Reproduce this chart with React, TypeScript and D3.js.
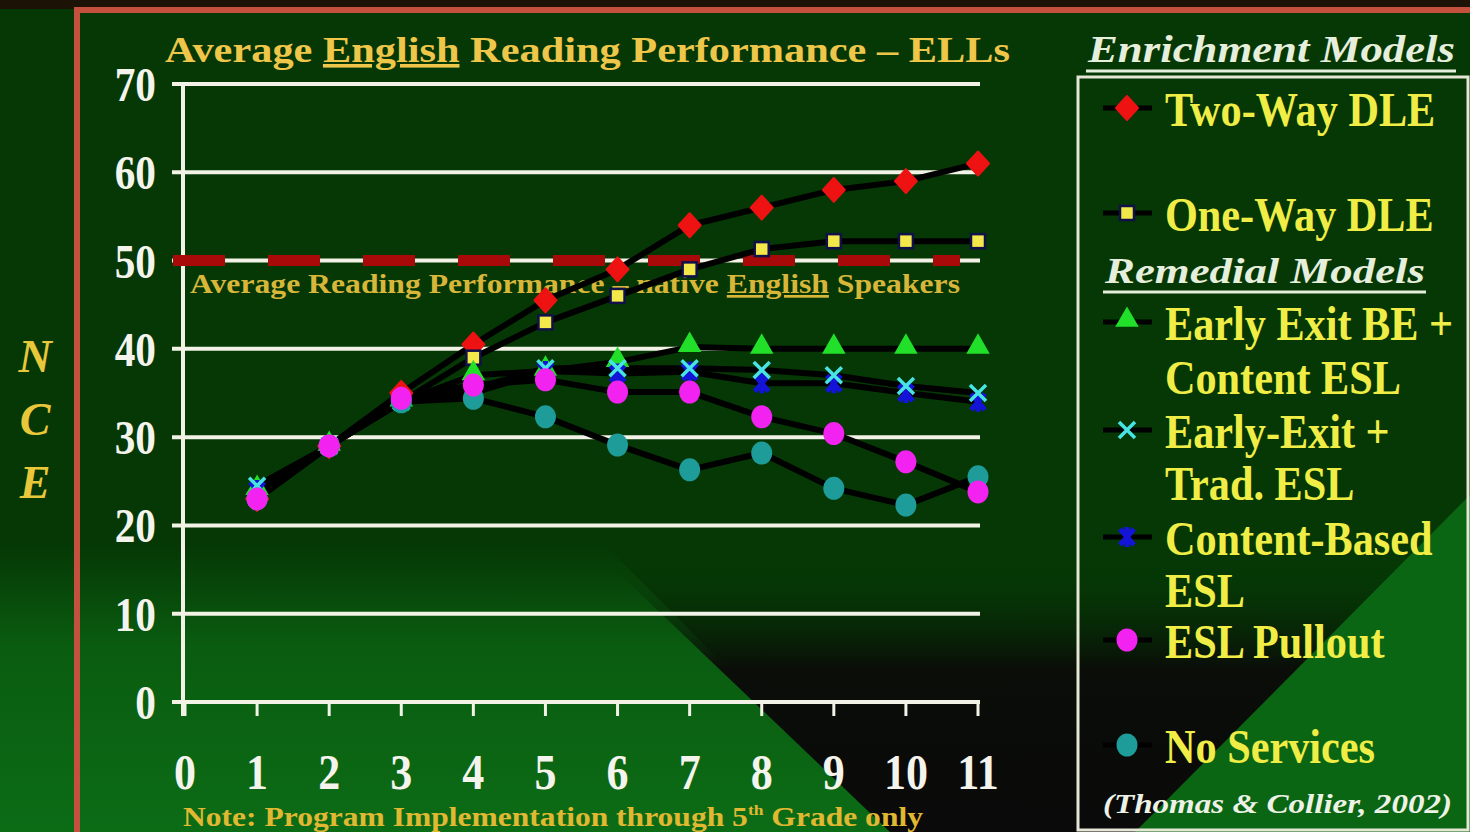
import * as d3 from "d3";

const grades = [1, 2, 3, 4, 5, 6, 7, 8, 9, 10, 11];
const xTicks = [0, 1, 2, 3, 4, 5, 6, 7, 8, 9, 10, 11];
const yTicks = [0, 10, 20, 30, 40, 50, 60, 70];
const nativeAverage = 50;

const twoWayDLE = [23, 29, 35, 40.5, 45.5, 49, 54, 56, 58, 59, 61];
const oneWayDLE = [23.5, 29, 34, 39, 43, 46, 49, 51.3, 52.2, 52.2, 52.2];
const earlyExitBE = [24, 29, 34, 37, 37.5, 38.5, 40.2, 40, 40, 40, 40];
const earlyExitTrad = [24.5, 29, 34, 35.5, 37.8, 37.8, 37.8, 37.6, 37, 35.8, 35];
const contentBasedESL = [24, 29, 34, 35, 37.5, 37.2, 37.4, 36.1, 36.1, 35, 34];
const eslPullout = [23, 29, 34.4, 35.9, 36.5, 35.1, 35.1, 32.3, 30.4, 27.2, 23.8];
const noServices = [23, 29, 34, 34.4, 32.3, 29.1, 26.3, 28.2, 24.2, 22.3, 25.5];

const title = "Average English Reading Performance – ELLs";
const refLabel = ["Average Reading Performance – native ", "English", " Speakers"];
const note = "Note: Program Implementation through 5";
const yLabel = ["N", "C", "E"];
const source = "(Thomas & Collier, 2002)";

type Series = { name: string[]; values: number[]; marker: string; color: string };

const enrichment: Series[] = [
  { name: ["Two-Way DLE"], values: twoWayDLE, marker: "diamond", color: "#ee1212" },
  { name: ["One-Way DLE"], values: oneWayDLE, marker: "square", color: "#f2e84a" },
];
const remedial: Series[] = [
  { name: ["Early Exit BE +", "Content ESL"], values: earlyExitBE, marker: "triangle", color: "#22e02a" },
  { name: ["Early-Exit +", "Trad. ESL"], values: earlyExitTrad, marker: "x", color: "#48e4e4" },
  { name: ["Content-Based", "ESL"], values: contentBasedESL, marker: "star", color: "#1414d8" },
  { name: ["ESL Pullout"], values: eslPullout, marker: "circle", color: "#f222f0" },
  { name: ["No Services"], values: noServices, marker: "teal", color: "#1e9c9a" },
];

const serif = "'Liberation Serif', 'Times New Roman', serif";

function Marker({ kind, color, x, y }: { kind: string; color: string; x: number; y: number }) {
  const t = `translate(${x},${y})`;
  if (kind === "diamond")
    return <path transform={t} d="M0,-12L11,0L0,12L-11,0Z" fill={color} strokeLinejoin="round" stroke={color} strokeWidth={2} />;
  if (kind === "square")
    return <rect x={x - 7} y={y - 7} width={14} height={14} fill={color} stroke="#10104a" strokeWidth={2.5} />;
  if (kind === "triangle")
    return <path transform={`translate(${x},${y - 2})`} d={d3.symbol(d3.symbolTriangle, 240)()!} fill={color} />;
  if (kind === "x")
    return <path transform={t} d="M-8,-8L8,8M-8,8L8,-8" stroke={color} strokeWidth={3.5} fill="none" />;
  if (kind === "star")
    return (
      <g transform={t}>
        <path d="M-7,-8L7,8M-7,8L7,-8M0,-10V10" stroke={color} strokeWidth={5} fill="none" />
      </g>
    );
  return <ellipse cx={x} cy={y} rx={10.5} ry={11.5} fill={color} />;
}

export default function App() {
  const width = 1470;
  const height = 832;

  const x = d3.scaleLinear([0, 11], [185, 978]);
  const y = d3.scaleLinear([0, 70], [702, 84]);
  const line = d3.line<number>((d, i) => x(grades[i]), (d) => y(d));

  const all = [...enrichment, ...remedial];
  const drawOrder = [all[0], all[1], all[2], all[4], all[3], all[6], all[5]];

  const legendRows = [108, 213, 322, 430, 537, 640, 745];
  const lineGap = [0, 0, 54, 52, 52, 0, 0];

  return (
    <svg width={width} height={height} style={{ position: "absolute", left: 0, top: 0 }}>
      <defs>
        <linearGradient id="lowGreen" x1="0" y1="0" x2="0" y2="1">
          <stop offset="0" stopColor="#053805" />
          <stop offset="0.35" stopColor="#0a5c10" />
          <stop offset="1" stopColor="#0c6c16" />
        </linearGradient>
        <linearGradient id="blackFade" x1="0" y1="0" x2="0" y2="1">
          <stop offset="0" stopColor="#053805" stopOpacity="0" />
          <stop offset="0.4" stopColor="#0a0d08" stopOpacity="1" />
          <stop offset="1" stopColor="#0a0a0a" />
        </linearGradient>
      </defs>

      {/* background */}
      <rect width={width} height={height} fill="#053805" />
      <rect width={width} height={9} fill="#1c1206" />
      <polygon points="0,545 605,545 890,832 0,832" fill="url(#lowGreen)" />
      <polygon points="605,560 1470,560 1470,832 890,832" fill="url(#blackFade)" />
      <polygon points="1135,832 1470,495 1470,832" fill="#0b6614" />
      <path d="M77,832V10H1470" fill="none" stroke="#c4503e" strokeWidth={6} />

      {/* title */}
      <text x={165} y={62} fontFamily={serif} fontWeight="bold" fontSize={36} fill="#eec64a" textLength={845} lengthAdjust="spacingAndGlyphs">
        {title.split("English")[0]}
        <tspan textDecoration="underline">English</tspan>
        {title.split("English")[1]}
      </text>

      {/* grid */}
      {yTicks.map((t) => (
        <line key={t} x1={172} x2={980} y1={y(t)} y2={y(t)} stroke="#f2f2e6" strokeWidth={4} />
      ))}
      <line x1={183} x2={183} y1={y(70)} y2={716} stroke="#f2f2e6" strokeWidth={4} />
      {xTicks.map((t) => (
        <line key={t} x1={x(t)} x2={x(t)} y1={y(0)} y2={716} stroke="#f2f2e6" strokeWidth={3} />
      ))}

      {/* native speakers reference */}
      <line
        x1={173}
        x2={960}
        y1={y(nativeAverage)}
        y2={y(nativeAverage)}
        stroke="#a80a0a"
        strokeWidth={11}
        strokeDasharray="52,43"
      />
      <text x={190} y={293} fontFamily={serif} fontWeight="bold" fontSize={27} fill="#d8b63a" textLength={770} lengthAdjust="spacingAndGlyphs">
        {refLabel[0]}
        <tspan textDecoration="underline">{refLabel[1]}</tspan>
        {refLabel[2]}
      </text>

      {/* tick labels */}
      {yTicks.map((t) => (
        <text key={t} transform={`translate(156,${y(t) + 17}) scale(0.86,1)`} textAnchor="end" fontFamily={serif} fontWeight="bold" fontSize={48} fill="#f4f4ec">
          {t}
        </text>
      ))}
      {xTicks.map((t) => (
        <text key={t} transform={`translate(${x(t)},${789}) scale(0.88,1)`} textAnchor="middle" fontFamily={serif} fontWeight="bold" fontSize={50} fill="#f4f4ec">
          {t}
        </text>
      ))}
      {yLabel.map((c, i) => (
        <text key={c} x={35} y={372 + i * 63} textAnchor="middle" fontFamily={serif} fontStyle="italic" fontWeight="bold" fontSize={46} fill="#e8c83a">
          {c}
        </text>
      ))}

      {/* series lines */}
      {all.map((s, i) => (
        <path key={i} d={line(s.values)!} fill="none" stroke="#000" strokeWidth={6} strokeLinejoin="round" />
      ))}
      {drawOrder.map((s, i) => (
        <g key={i}>
          {s.values.map((v, j) => (
            <Marker key={j} kind={s.marker} color={s.color} x={x(grades[j])} y={y(v)} />
          ))}
        </g>
      ))}

      {/* note */}
      <text x={183} y={826} fontFamily={serif} fontWeight="bold" fontSize={27} fill="#e0b832" textLength={740} lengthAdjust="spacingAndGlyphs">
        {note}
        <tspan fontSize={15} dy={-11}>th</tspan>
        <tspan dy={11}> Grade only</tspan>
      </text>

      {/* legend */}
      <text x={1088} y={62} fontFamily={serif} fontStyle="italic" fontWeight="bold" fontSize={38} fill="#e6eedc" textLength={367} lengthAdjust="spacingAndGlyphs">
        Enrichment Models
      </text>
      <line x1={1086} x2={1456} y1={71} y2={71} stroke="#e6eedc" strokeWidth={3} />
      <rect x={1078} y={77} width={390} height={753} fill="none" stroke="#e6e6d6" strokeWidth={3} />
      <text x={1105} y={283} fontFamily={serif} fontStyle="italic" fontWeight="bold" fontSize={36} fill="#e6eedc" textLength={320} lengthAdjust="spacingAndGlyphs">
        Remedial Models
      </text>
      <line x1={1103} x2={1426} y1={292} y2={292} stroke="#e6eedc" strokeWidth={3} />
      {all.map((s, i) => {
        const cy = legendRows[i];
        return (
          <g key={i}>
            <line x1={1103} x2={1152} y1={cy} y2={cy} stroke="#000" strokeWidth={5} />
            <Marker kind={s.marker} color={s.color} x={1127} y={cy} />
            {s.name.map((n, k) => (
              <text
                key={k}
                transform={`translate(1165,${cy + 18 + k * lineGap[i]}) scale(0.88,1)`}
                fontFamily={serif}
                fontWeight="bold"
                fontSize={48}
                fill="#f0ee46"
              >
                {n}
              </text>
            ))}
          </g>
        );
      })}
      <text x={1103} y={813} fontFamily={serif} fontStyle="italic" fontWeight="bold" fontSize={28} fill="#eef2e6" textLength={349} lengthAdjust="spacingAndGlyphs">
        {source}
      </text>
    </svg>
  );
}
